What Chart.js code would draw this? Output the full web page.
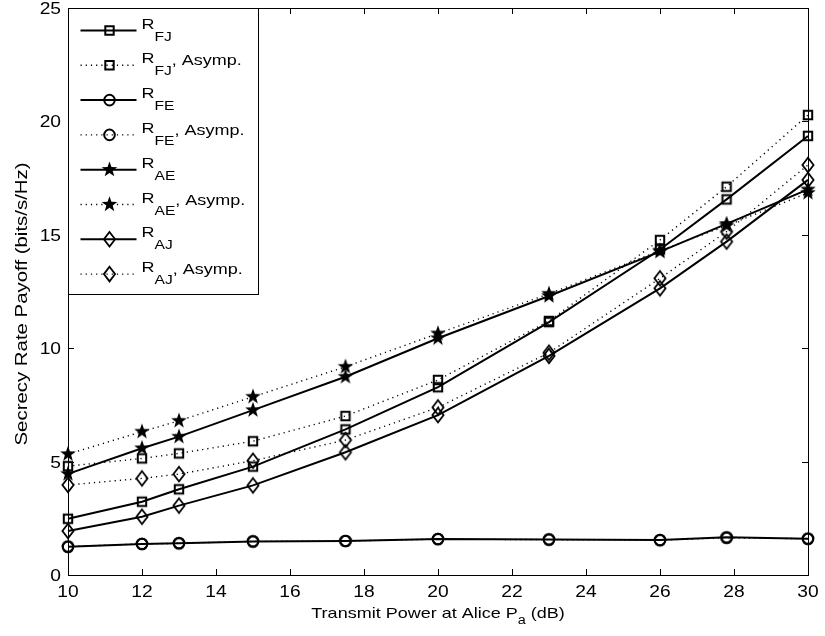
<!DOCTYPE html>
<html>
<head>
<meta charset="utf-8">
<script src="https://cdn.jsdelivr.net/npm/chart.js@4.4.1/dist/chart.umd.min.js"></script>
<style>
  html, body { margin: 0; padding: 0; background: #fff; }
  #wrap { width: 825px; height: 636px; position: relative; }
</style>
</head>
<body>
<div id="wrap"><canvas id="payoffChart"></canvas></div>
<script>
// Alice transmit power (dB)
const powerDb = [10, 12, 13, 15, 17.5, 20, 23, 26, 27.8, 30];

// secrecy rate payoff (bits/s/Hz)
const rFJ      = [2.48, 3.23, 3.78, 4.78, 6.42, 8.28, 11.15, 14.35, 16.56, 19.36];
const rFJAsym  = [4.80, 5.14, 5.36, 5.90, 7.01, 8.60, 11.20, 14.77, 17.12, 20.28];
const rFE      = [1.25, 1.37, 1.40, 1.48, 1.50, 1.59, 1.57, 1.54, 1.66, 1.60];
const rFEAsym  = [1.25, 1.37, 1.40, 1.48, 1.50, 1.58, 1.56, 1.54, 1.64, 1.60];
const rAE      = [4.46, 5.59, 6.10, 7.27, 8.74, 10.44, 12.30, 14.26, 15.48, 17.00];
const rAEAsym  = [5.33, 6.32, 6.80, 7.86, 9.18, 10.65, 12.40, 14.30, 15.40, 16.85];
const rAJ      = [1.94, 2.57, 3.06, 3.95, 5.41, 7.05, 9.66, 12.64, 14.70, 17.42];
const rAJAsym  = [3.97, 4.26, 4.45, 5.04, 5.95, 7.39, 9.80, 13.08, 15.14, 18.08];

const xTicks = [10, 12, 14, 16, 18, 20, 22, 24, 26, 28, 30];
const yTicks = [0, 5, 10, 15, 20, 25];

const FONT = '"Liberation Sans", Arial, Helvetica, sans-serif';
const WIDE = 1.2;   // text is drawn a little wider than the font's own width

// marker shapes, drawn once into small canvases and reused as pointStyle
function drawMarker(ctx, kind, x, y) {
    ctx.save();
    ctx.strokeStyle = '#000';
    ctx.fillStyle = '#000';
    ctx.lineWidth = 2;
    ctx.setLineDash([]);
    ctx.beginPath();
    if (kind === 'square') {
        ctx.rect(x - 4.2, y - 4.2, 8.4, 8.4);
        ctx.stroke();
    } else if (kind === 'circle') {
        ctx.arc(x, y, 5.3, 0, Math.PI * 2);
        ctx.stroke();
    } else if (kind === 'star') {
        const ro = 8.2, ri = 3.3;
        for (let i = 0; i < 10; i++) {
            const r = i % 2 === 0 ? ro : ri;
            const a = -Math.PI / 2 + i * Math.PI / 5;
            const px = x + r * Math.cos(a), py = y + r * Math.sin(a);
            if (i === 0) ctx.moveTo(px, py); else ctx.lineTo(px, py);
        }
        ctx.closePath();
        ctx.fill();
    } else if (kind === 'diamond') {
        ctx.lineWidth = 1.8;
        ctx.moveTo(x, y - 7.3);
        ctx.lineTo(x + 5.6, y);
        ctx.lineTo(x, y + 7.3);
        ctx.lineTo(x - 5.6, y);
        ctx.closePath();
        ctx.stroke();
    }
    ctx.restore();
}

function markerCanvas(kind) {
    const c = document.createElement('canvas');
    c.width = 22;
    c.height = 22;
    drawMarker(c.getContext('2d'), kind, 11, 11);
    return c;
}

const markers = {
    square: markerCanvas('square'),
    circle: markerCanvas('circle'),
    star: markerCanvas('star'),
    diamond: markerCanvas('diamond')
};

// widened text; returns the drawn width
function wideText(ctx, text, x, y, size, align) {
    ctx.save();
    ctx.font = size + 'px ' + FONT;
    const w = ctx.measureText(text).width * WIDE;
    let x0 = x;
    if (align === 'center') x0 = x - w / 2;
    else if (align === 'right') x0 = x - w;
    ctx.translate(x0, y);
    ctx.scale(WIDE, 1);
    ctx.textAlign = 'left';
    ctx.fillText(text, 0, 0);
    ctx.restore();
    return w;
}

function textWidth(ctx, text, size) {
    ctx.save();
    ctx.font = size + 'px ' + FONT;
    const w = ctx.measureText(text).width * WIDE;
    ctx.restore();
    return w;
}

function series(values, kind, dotted, sub) {
    return {
        data: powerDb.map((x, i) => ({ x: x, y: values[i] })),
        borderColor: '#000',
        backgroundColor: '#000',
        borderWidth: dotted ? 1.4 : 2,
        borderDash: dotted ? [1.2, 4] : [],
        pointStyle: markers[kind],
        pointRadius: 6,
        pointHoverRadius: 6,
        tension: 0,
        fill: false,
        clip: false,
        sub: sub,
        asym: dotted,
        kind: kind
    };
}

const datasets = [
    series(rFJ, 'square', false, 'FJ'),
    series(rFJAsym, 'square', true, 'FJ'),
    series(rFE, 'circle', false, 'FE'),
    series(rFEAsym, 'circle', true, 'FE'),
    series(rAE, 'star', false, 'AE'),
    series(rAEAsym, 'star', true, 'AE'),
    series(rAJ, 'diamond', false, 'AJ'),
    series(rAJAsym, 'diamond', true, 'AJ')
];

// box, inward ticks, tick labels, axis titles and the legend
const framePlugin = {
    id: 'frame',
    afterDatasetsDraw(chart) {
        const ctx = chart.ctx;
        const a = chart.chartArea;
        const xs = chart.scales.x, ys = chart.scales.y;
        const tl = 6;
        ctx.save();
        ctx.strokeStyle = '#000';
        ctx.fillStyle = '#000';
        ctx.lineWidth = 1;
        ctx.strokeRect(a.left + 0.5, a.top + 0.5, a.right - a.left, a.bottom - a.top);
        ctx.beginPath();
        xs.ticks.forEach(t => {
            const px = Math.round(xs.getPixelForValue(t.value)) + 0.5;
            ctx.moveTo(px, a.bottom); ctx.lineTo(px, a.bottom - tl);
            ctx.moveTo(px, a.top); ctx.lineTo(px, a.top + tl);
        });
        ys.ticks.forEach(t => {
            const py = Math.round(ys.getPixelForValue(t.value)) + 0.5;
            ctx.moveTo(a.left, py); ctx.lineTo(a.left + tl, py);
            ctx.moveTo(a.right, py); ctx.lineTo(a.right - tl, py);
        });
        ctx.stroke();

        // tick labels
        ctx.textBaseline = 'alphabetic';
        xs.ticks.forEach(t => {
            wideText(ctx, String(t.value), xs.getPixelForValue(t.value), a.bottom + 22, 16, 'center');
        });
        ys.ticks.forEach(t => {
            wideText(ctx, String(t.value), a.left - 7, ys.getPixelForValue(t.value) + 6, 16, 'right');
        });

        // x title with subscript
        const p1 = 'Transmit Power at Alice P', p2 = 'a', p3 = ' (dB)';
        const total = textWidth(ctx, p1, 15) + textWidth(ctx, p2, 12) + textWidth(ctx, p3, 15);
        let tx = (a.left + a.right) / 2 - total / 2;
        const ty = 618;
        tx += wideText(ctx, p1, tx, ty, 15, 'left');
        tx += wideText(ctx, p2, tx, ty + 6, 12, 'left');
        wideText(ctx, p3, tx, ty, 15, 'left');

        // y title
        ctx.save();
        ctx.translate(27, 304);
        ctx.rotate(-Math.PI / 2);
        wideText(ctx, 'Secrecy Rate Payoff (bits/s/Hz)', 0, 0, 17, 'center');
        ctx.restore();

        // legend
        const lx = a.left + 0.5, ly = a.top + 0.5, lw = 190, lh = 286;
        ctx.fillStyle = '#fff';
        ctx.fillRect(lx, ly, lw, lh);
        ctx.strokeRect(lx, ly, lw, lh);
        ctx.fillStyle = '#000';
        chart.data.datasets.forEach((ds, i) => {
            const cy = ly + 22 + i * 34.8;
            ctx.save();
            ctx.strokeStyle = '#000';
            ctx.lineWidth = ds.borderWidth;
            ctx.setLineDash(ds.borderDash);
            ctx.beginPath();
            ctx.moveTo(lx + 12, cy);
            ctx.lineTo(lx + 68, cy);
            ctx.stroke();
            ctx.restore();
            drawMarker(ctx, ds.kind, lx + 41, cy);
            let x = lx + 73;
            x += wideText(ctx, 'R', x, cy - 2, 15, 'left');
            x += wideText(ctx, ds.sub, x, cy + 10, 13, 'left');
            if (ds.asym) {
                wideText(ctx, ', Asymp.', x, cy, 15, 'left');
            }
        });
        ctx.restore();
    }
};

const chart = new Chart(document.getElementById('payoffChart'), {
    type: 'line',
    data: { datasets: datasets },
    options: {
        responsive: true,
        maintainAspectRatio: false,
        animation: false,
        layout: { padding: { left: 0, top: 8, right: 17, bottom: 0 } },
        plugins: {
            legend: { display: false },
            tooltip: { enabled: false }
        },
        scales: {
            x: {
                type: 'linear',
                min: 10,
                max: 30,
                afterBuildTicks: s => { s.ticks = xTicks.map(v => ({ value: v })); },
                afterFit: s => { s.height = 61; },
                grid: { display: false },
                border: { display: false },
                ticks: { display: false }
            },
            y: {
                min: 0,
                max: 25,
                afterBuildTicks: s => { s.ticks = yTicks.map(v => ({ value: v })); },
                afterFit: s => { s.width = 68; },
                grid: { display: false },
                border: { display: false },
                ticks: { display: false }
            }
        }
    },
    plugins: [framePlugin]
});
</script>
</body>
</html>
